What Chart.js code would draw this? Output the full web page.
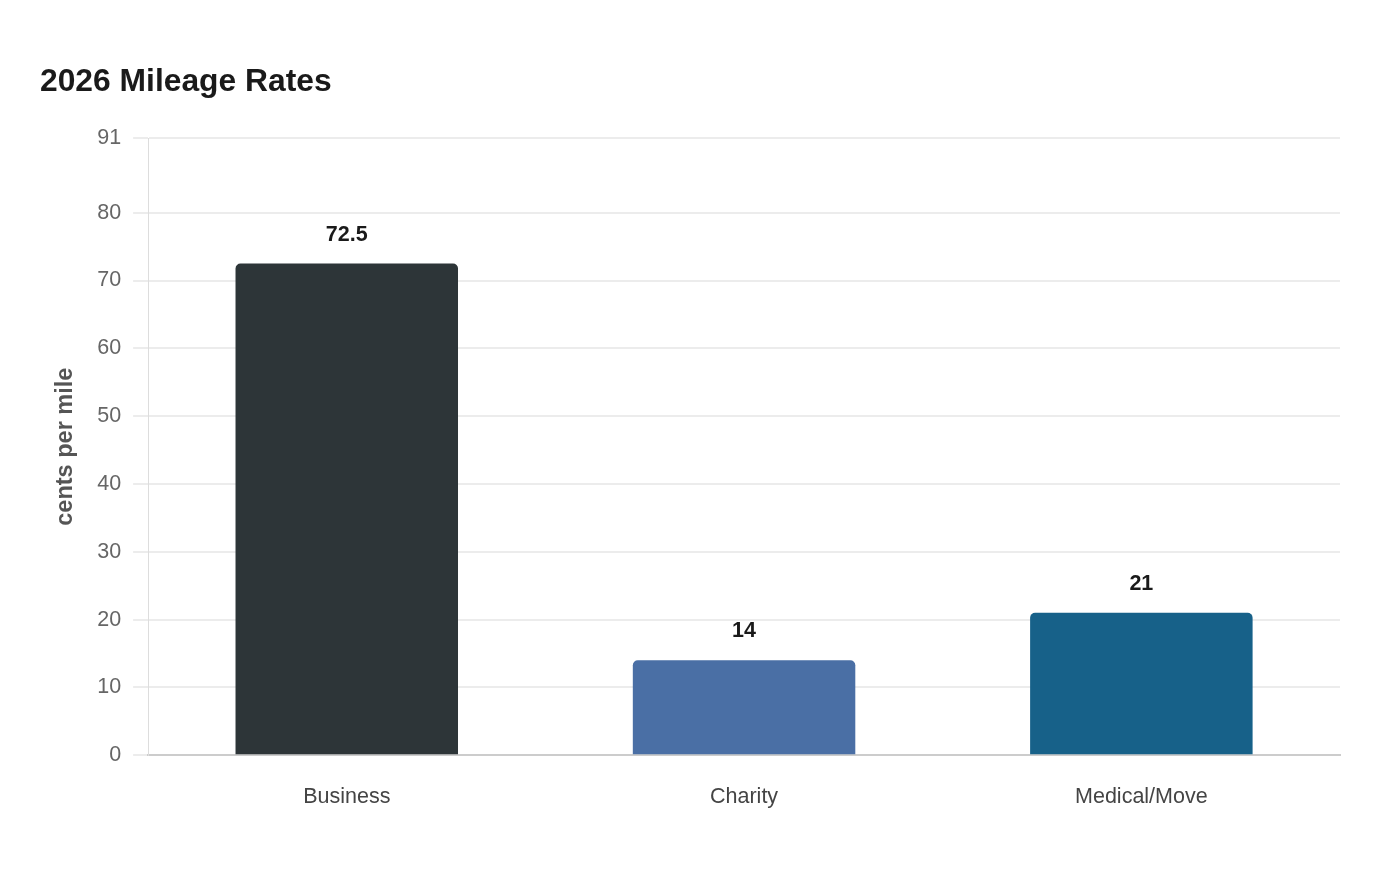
<!DOCTYPE html>
<html>
<head>
<meta charset="utf-8">
<title>2026 Mileage Rates</title>
<script src="https://cdn.jsdelivr.net/npm/chart.js@4"></script>
<style>
  html, body { margin: 0; padding: 0; background: #ffffff; }
  #wrap { width: 1400px; height: 880px; }
</style>
</head>
<body>
<div id="wrap"><canvas id="rateChart" width="1400" height="880"></canvas></div>
<script>
// IRS-style mileage rates, cents per mile
var categories = ['Business', 'Charity', 'Medical/Move'];
var rates = [72.5, 14, 21];
var barColors = ['#2d3538', '#4a6fa5', '#176189'];
var yTicks = [0, 10, 20, 30, 40, 50, 60, 70, 80, 91];

Chart.defaults.font.family = '"Liberation Sans", Arial, sans-serif';

// draw the value above each bar
var valueLabels = {
  id: 'valueLabels',
  afterDatasetsDraw: function (chart) {
    var ctx = chart.ctx;
    var meta = chart.getDatasetMeta(0);
    ctx.save();
    ctx.font = 'bold 21.5px "Liberation Sans", Arial, sans-serif';
    ctx.fillStyle = '#1a1a1a';
    ctx.textAlign = 'center';
    ctx.textBaseline = 'middle';
    meta.data.forEach(function (bar, i) {
      ctx.fillText(String(rates[i]), bar.x, bar.y - 29);
    });
    ctx.restore();
  }
};

function setTicks(scale) {
  scale.ticks = yTicks.map(function (v) { return { value: v }; });
}

var ctx = document.getElementById('rateChart').getContext('2d');
new Chart(ctx, {
  type: 'bar',
  data: {
    labels: categories,
    datasets: [{
      label: 'Rate',
      data: rates,
      backgroundColor: barColors,
      borderRadius: { topLeft: 5, topRight: 5 },
      borderSkipped: 'bottom',
      barPercentage: 0.56,
      categoryPercentage: 1.0
    }]
  },
  options: {
    responsive: false,
    animation: false,
    devicePixelRatio: 1,
    layout: { padding: { left: 40, right: 60, top: 53, bottom: 49 } },
    plugins: {
      legend: { display: false },
      tooltip: { enabled: false },
      title: {
        display: true,
        text: '2026 Mileage Rates',
        align: 'start',
        color: '#1a1a1a',
        font: { size: 31.8, weight: 'bold' },
        padding: { top: 10, bottom: 37 }
      }
    },
    scales: {
      x: {
        grid: { display: false },
        border: { color: '#cccccc', width: 2 },
        ticks: { color: '#444444', font: { size: 21.5 }, padding: 21 }
      },
      y: {
        min: 0,
        max: 91,
        afterBuildTicks: setTicks,
        grid: { color: '#ececec', lineWidth: 2, tickLength: 15 },
        border: { color: '#dddddd', width: 1 },
        ticks: { color: '#666666', font: { size: 21.5 }, padding: 12 },
        title: {
          display: true,
          text: 'cents per mile',
          color: '#555555',
          font: { size: 23.5, weight: 'bold' },
          padding: { top: 11, bottom: 6 }
        }
      }
    }
  },
  plugins: [valueLabels]
});
</script>
</body>
</html>
